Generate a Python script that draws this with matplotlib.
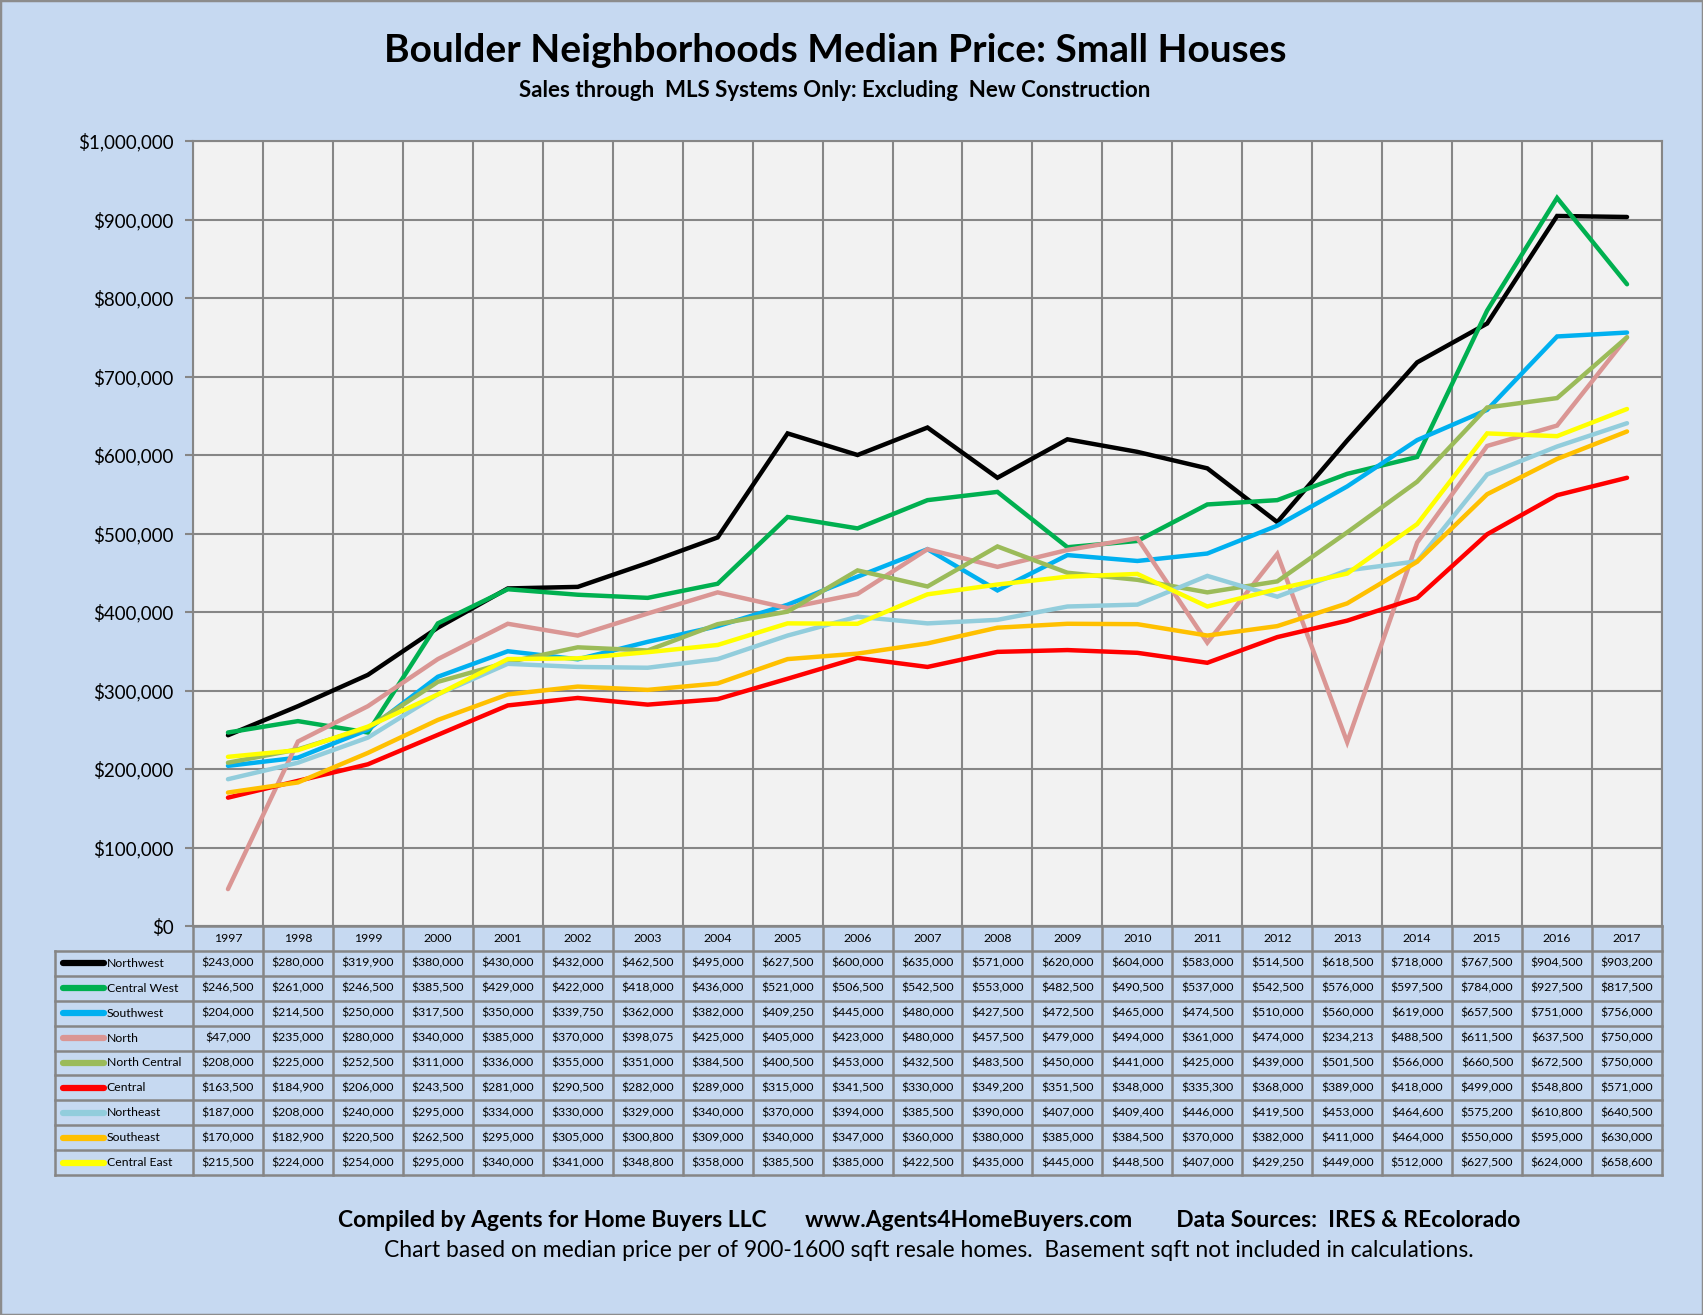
import matplotlib.pyplot as plt
import matplotlib.patches as patches

years = ['1997', '1998', '1999', '2000', '2001', '2002', '2003', '2004', '2005', '2006', '2007',
         '2008', '2009', '2010', '2011', '2012', '2013', '2014', '2015', '2016', '2017']
areas = ['Northwest', 'Central West', 'Southwest', 'North', 'North Central', 'Central',
         'Northeast', 'Southeast', 'Central East']
colors = ['#000000', '#00B050', '#00B0F0', '#DA9694', '#9BBB59', '#FF0000',
          '#92CDDC', '#FFC000', '#FFFF00']

northwest = [243000, 280000, 319900, 380000, 430000, 432000, 462500, 495000, 627500, 600000, 635000,
             571000, 620000, 604000, 583000, 514500, 618500, 718000, 767500, 904500, 903200]
central_west = [246500, 261000, 246500, 385500, 429000, 422000, 418000, 436000, 521000, 506500, 542500,
                553000, 482500, 490500, 537000, 542500, 576000, 597500, 784000, 927500, 817500]
southwest = [204000, 214500, 250000, 317500, 350000, 339750, 362000, 382000, 409250, 445000, 480000,
             427500, 472500, 465000, 474500, 510000, 560000, 619000, 657500, 751000, 756000]
north = [47000, 235000, 280000, 340000, 385000, 370000, 398075, 425000, 405000, 423000, 480000,
         457500, 479000, 494000, 361000, 474000, 234213, 488500, 611500, 637500, 750000]
north_central = [208000, 225000, 252500, 311000, 336000, 355000, 351000, 384500, 400500, 453000, 432500,
                 483500, 450000, 441000, 425000, 439000, 501500, 566000, 660500, 672500, 750000]
central = [163500, 184900, 206000, 243500, 281000, 290500, 282000, 289000, 315000, 341500, 330000,
           349200, 351500, 348000, 335300, 368000, 389000, 418000, 499000, 548800, 571000]
northeast = [187000, 208000, 240000, 295000, 334000, 330000, 329000, 340000, 370000, 394000, 385500,
             390000, 407000, 409400, 446000, 419500, 453000, 464600, 575200, 610800, 640500]
southeast = [170000, 182900, 220500, 262500, 295000, 305000, 300800, 309000, 340000, 347000, 360000,
             380000, 385000, 384500, 370000, 382000, 411000, 464000, 550000, 595000, 630000]
central_east = [215500, 224000, 254000, 295000, 340000, 341000, 348800, 358000, 385500, 385000, 422500,
                435000, 445000, 448500, 407000, 429250, 449000, 512000, 627500, 624000, 658600]

series = [northwest, central_west, southwest, north, north_central, central,
          northeast, southeast, central_east]

plt.rcParams['font.family'] = ['Lato', 'DejaVu Sans']

W, H = 1703, 1315
BG = '#C6D9F1'
GRID = '#868686'

fig = plt.figure(figsize=(W / 100, H / 100), dpi=100, facecolor=BG)
fig.patches.append(patches.Rectangle((0, 0), 1, 1, transform=fig.transFigure,
                                     fill=False, edgecolor='#8C8C8C', linewidth=2.5))

# plot area in pixels
L, R, T, B = 193, 1662, 141, 926
ax = fig.add_axes([L / W, 1 - B / H, (R - L) / W, (B - T) / H])
ax.set_facecolor('#F2F2F2')

x = list(range(len(years)))
for vals, c in zip(series, colors):
    ax.plot(x, vals, color=c, linewidth=3.2, solid_joinstyle='miter', solid_capstyle='round')

ax.set_xlim(-0.5, len(years) - 0.5)
ax.set_ylim(0, 1000000)
ax.set_yticks(range(0, 1000001, 100000))
ax.set_yticklabels(['$0' if v == 0 else '${:,}'.format(v) for v in range(0, 1000001, 100000)],
                   fontsize=13.5)
ax.set_xticks([i - 0.5 for i in range(len(years) + 1)])
ax.set_xticklabels([])
ax.tick_params(axis='y', length=6, width=1.5, color=GRID, pad=8)
ax.tick_params(axis='x', length=0)
ax.grid(True, color=GRID, linewidth=1.5)
ax.set_axisbelow(True)
for s in ax.spines.values():
    s.set_color(GRID)
    s.set_linewidth(1.5)

# data table below the plot
TL, TB = 55, 1175
leg_w = (L - TL) / ((R - L) / len(years))
axt = fig.add_axes([TL / W, 1 - TB / H, (R - TL) / W, (TB - B) / H])
axt.set_xlim(-0.5 - leg_w, len(years) - 0.5)
axt.set_ylim(len(areas) + 1, 0)
axt.axis('off')

nrows = len(areas) + 1
# header row (years only)
for i, yr in enumerate(years):
    axt.text(i, 0.5, yr, ha='center', va='center', fontsize=8.8)
# borders
lw = 1.8
axt.plot([-0.5, len(years) - 0.5], [0, 0], color=GRID, lw=lw, clip_on=False)
for r in range(1, nrows + 1):
    axt.plot([-0.5 - leg_w, len(years) - 0.5], [r, r], color=GRID, lw=lw, clip_on=False)
for i in range(len(years) + 1):
    axt.plot([i - 0.5, i - 0.5], [0, nrows], color=GRID, lw=lw, clip_on=False)
axt.plot([-0.5 - leg_w] * 2, [1, nrows], color=GRID, lw=lw, clip_on=False)

for r, (name, c, vals) in enumerate(zip(areas, colors, series), start=1):
    x0 = -0.5 - leg_w
    axt.plot([x0 + 0.12, x0 + 0.7], [r + 0.5, r + 0.5], color=c, lw=4.5, solid_capstyle='round')
    axt.text(x0 + 0.74, r + 0.5, name, ha='left', va='center', fontsize=8.8)
    for i, v in enumerate(vals):
        axt.text(i, r + 0.5, '${:,}'.format(v), ha='center', va='center', fontsize=8.8)

# titles and footers
fig.text(835 / W, 1 - 62 / H, 'Boulder Neighborhoods Median Price: Small Houses',
         ha='center', va='baseline', fontsize=28, fontweight='bold')
fig.text(835 / W, 1 - 97 / H, 'Sales through  MLS Systems Only: Excluding  New Construction',
         ha='center', va='baseline', fontsize=16, fontweight='bold')
fig.text(929 / W, 1 - 1227 / H,
         'Compiled by Agents for Home Buyers LLC       www.Agents4HomeBuyers.com        Data Sources:  IRES & REcolorado',
         ha='center', va='baseline', fontsize=16.5, fontweight='bold')
fig.text(929 / W, 1 - 1257 / H,
         'Chart based on median price per of 900-1600 sqft resale homes.  Basement sqft not included in calculations.',
         ha='center', va='baseline', fontsize=16.5)

fig.savefig('out.png', dpi=100, facecolor=BG)
